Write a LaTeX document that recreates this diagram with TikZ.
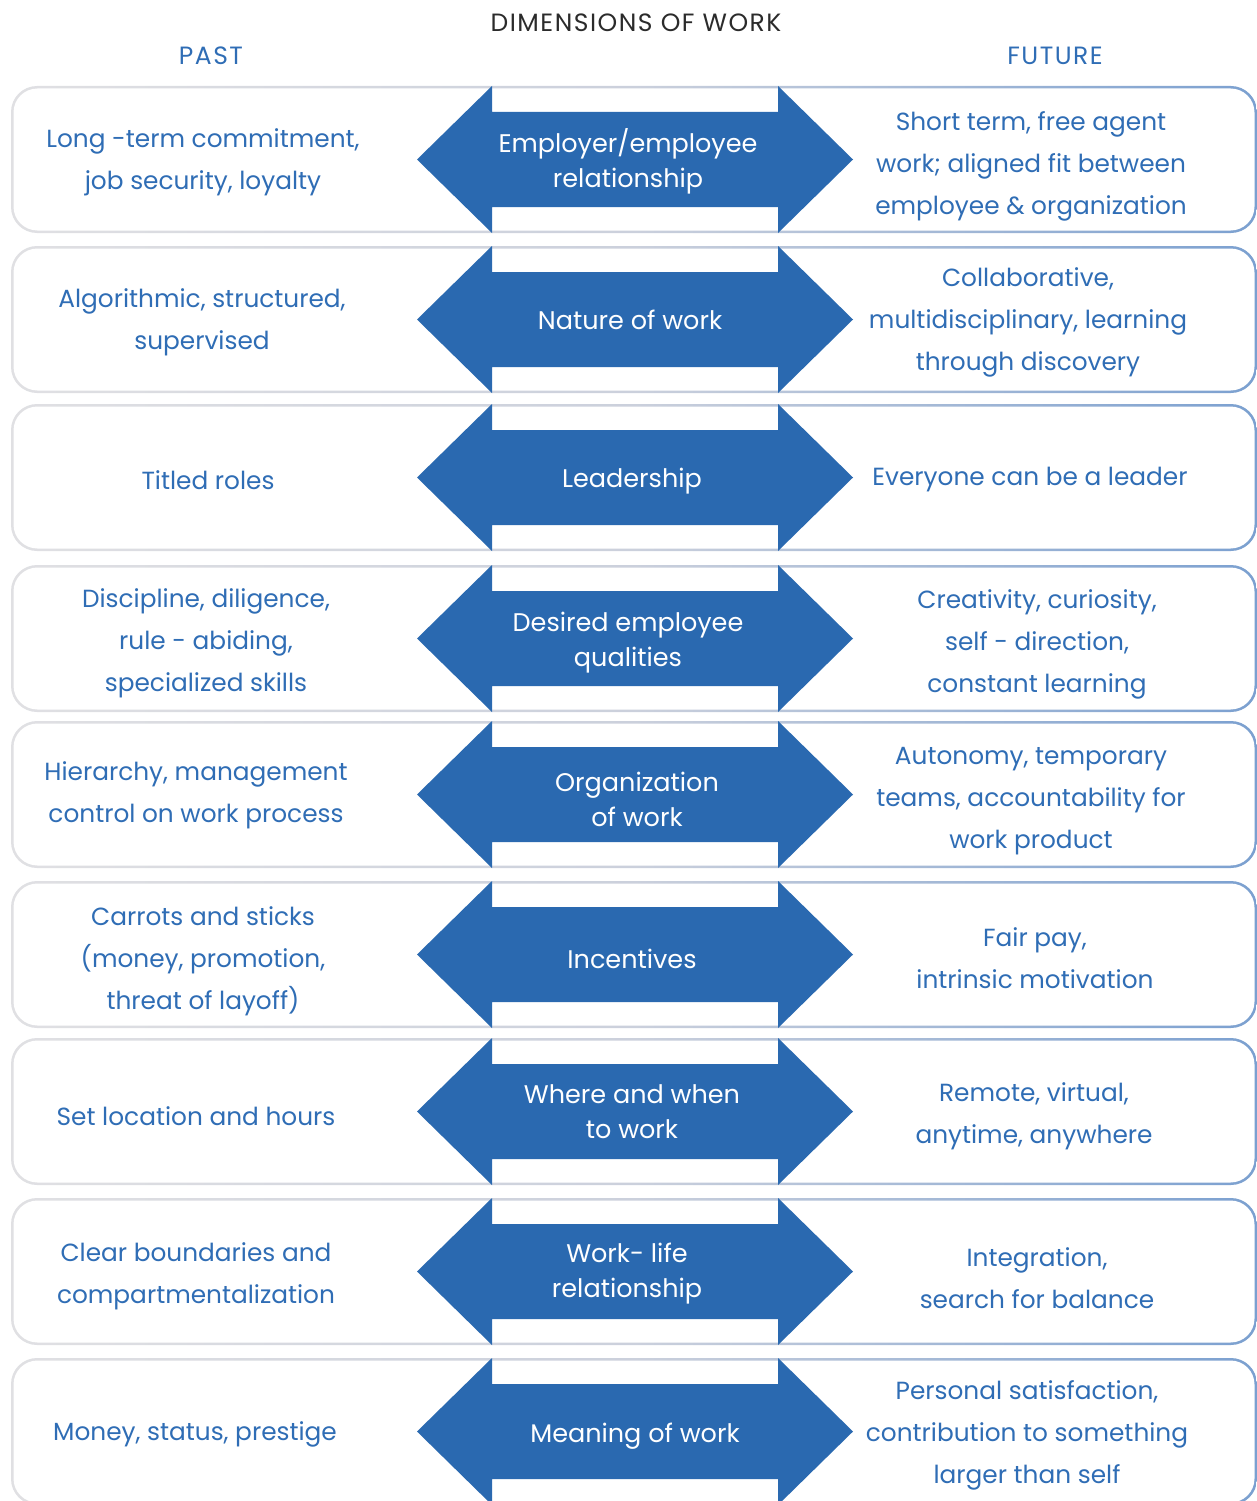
\documentclass[tikz,border=0pt]{standalone}
\usepackage{fontspec}
\setmainfont{Poppins}
\definecolor{arrowblue}{HTML}{2A69B0}
\definecolor{txtblue}{HTML}{2F6DB5}
\definecolor{titlegray}{HTML}{2B2B2B}
\definecolor{bordergray}{HTML}{E0E0E3}
\definecolor{bordermid}{HTML}{CBD0DC}
\definecolor{borderblue}{HTML}{7BA0D0}
\begin{document}
\begin{tikzpicture}[x=1pt,y=-1pt,
  side/.style={text=txtblue, font=\fontsize{24.8}{42}\selectfont, align=center, inner sep=0pt},
  mid/.style={text=white, font=\fontsize{25.5}{35}\selectfont, align=center, inner sep=0pt},
  head/.style={text=txtblue, font=\fontsize{25}{28}\selectfont\addfontfeatures{LetterSpace=6}, inner sep=0pt},
  arrowfill/.style={fill=arrowblue}]
\useasboundingbox (0,0) rectangle (1257,1501);
\foreach \t [count=\i] in {86,246,404,565,721,881,1038,1198,1358}{
  \shade[left color=bordergray, right color=borderblue, middle color=bordermid, rounded corners=26pt] (11,\t) rectangle (1257,\t+147);
  \fill[white, rounded corners=24pt] (13.5,\t+2.5) rectangle (1254.5,\t+144.5);
  \fill[arrowfill] (417,\t+73.5) -- (492,\t) -- (492,\t+26) -- (778,\t+26) -- (778,\t) -- (853,\t+73.5) -- (778,\t+147) -- (778,\t+121) -- (492,\t+121) -- (492,\t+147) -- cycle;
}
\node[head, text=titlegray] (title) at (636,23) {DIMENSIONS OF WORK};
\node[head] (past) at (211,56) {PAST};
\node[head] (future) at (1055,56) {FUTURE};
% row 1
\node[side] (p1) at (203,162) {Long -term commitment,\\job security, loyalty};
\node[mid] (m1) at (628,161) {Employer/employee\\relationship};
\node[side] (f1) at (1031,166) {Short term, free agent\\work; aligned fit between\\employee \& organization};
% row 2
\node[side] (p2) at (202,322) {Algorithmic, structured,\\supervised};
\node[mid] (m2) at (630,320) {Nature of work};
\node[side] (f2) at (1028,322) {Collaborative,\\multidisciplinary, learning\\through discovery};
% row 3
\node[side] (p3) at (208,480) {Titled roles};
\node[mid] (m3) at (632,481) {Leadership};
\node[side] (f3) at (1030,480) {Everyone can be a leader};
% row 4
\node[side] (p4) at (206,643) {Discipline, diligence,\\rule - abiding,\\specialized skills};
\node[mid] (m4) at (628,643) {Desired employee\\qualities};
\node[side] (f4) at (1037,644) {Creativity, curiosity,\\self - direction,\\constant learning};
% row 5
\node[side] (p5) at (196,795) {Hierarchy, management\\control on work process};
\node[mid] (m5) at (637,799) {Organization\\of work};
\node[side] (f5) at (1031,801) {Autonomy, temporary\\teams, accountability for\\work product};
% row 6
\node[side] (p6) at (203,961) {Carrots and sticks\\(money, promotion,\\threat of layoff)};
\node[mid] (m6) at (632,959) {Incentives};
\node[side] (f6) at (1035,958) {Fair pay,\\intrinsic motivation};
% row 7
\node[side] (p7) at (196,1116) {Set location and hours};
\node[mid] (m7) at (632,1112) {Where and when\\to work};
\node[side] (f7) at (1034,1116) {Remote, virtual,\\anytime, anywhere};
% row 8
\node[side] (p8) at (196,1276) {Clear boundaries and\\compartmentalization};
\node[mid] (m8) at (627,1274) {Work- life\\relationship};
\node[side] (f8) at (1037,1278) {Integration,\\search for balance};
% row 9
\node[side] (p9) at (195,1434) {Money, status, prestige};
\node[mid] (m9) at (635,1436) {Meaning of work};
\node[side] (f9) at (1027,1435) {Personal satisfaction,\\contribution to something\\larger than self};
\end{tikzpicture}
\end{document}
